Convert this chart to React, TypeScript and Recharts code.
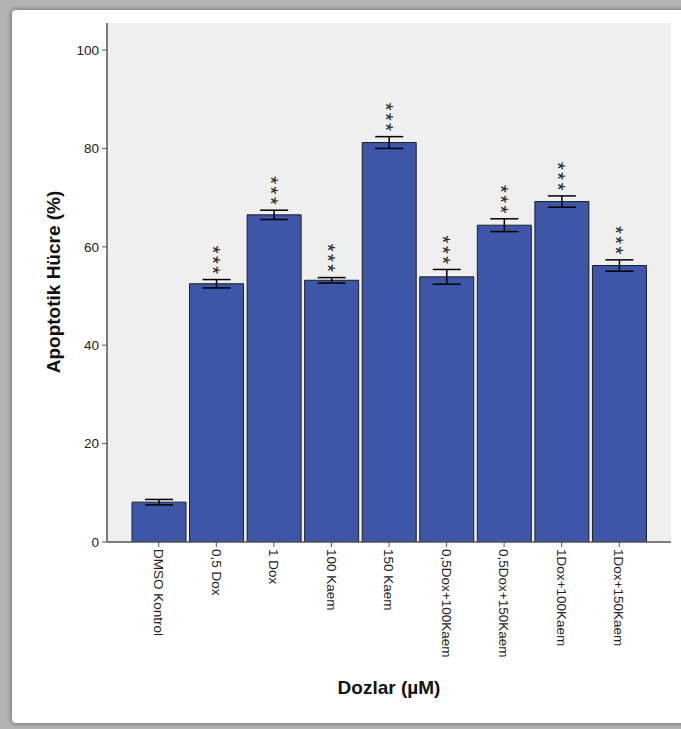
import React from "react";
import {
  BarChart, Bar, XAxis, YAxis, CartesianGrid, ErrorBar, LabelList,
} from "recharts";

const categories = [
  "DMSO Kontrol", "0,5 Dox", "1 Dox", "100 Kaem", "150 Kaem",
  "0,5Dox+100Kaem", "0,5Dox+150Kaem", "1Dox+100Kaem", "1Dox+150Kaem",
];
const means = [8.1, 52.5, 66.5, 53.2, 81.2, 53.9, 64.4, 69.2, 56.2];
const sems = [0.55, 0.85, 0.95, 0.55, 1.2, 1.5, 1.3, 1.15, 1.15];
const stars = ["", "***", "***", "***", "***", "***", "***", "***", "***"];
const yTicks = [0, 20, 40, 60, 80, 100];

const data = categories.map((name, i) => ({ name, mean: means[i], err: [sems[i], sems[i]] }));

const FONT = "'Liberation Sans', Arial, sans-serif";
const AXIS = "#555";

function XTick({ x, y, payload }: any) {
  return (
    <text transform={`translate(${x},${y}) rotate(90)`} textAnchor="start" dy="0.35em"
      fontSize={13.5} fill="#222" fontFamily={FONT}>
      {payload.value}
    </text>
  );
}

// significance stars, written vertically just above the error bar cap
function Stars(props: any) {
  const { x, y, width, height, value, index } = props;
  const s = stars[index];
  if (!s) return null;
  const perUnit = height / value;
  const capTop = y - sems[index] * perUnit;
  const cx = x + width / 2 + 1;
  return (
    <text transform={`translate(${cx},${capTop - 3}) rotate(90)`} textAnchor="end" dy="0.58em"
      fill="#222" fontSize={20} letterSpacing={2.5} fontFamily={FONT}>
      {s}
    </text>
  );
}

export default function App() {
  return (
    <div style={{ position: "absolute", left: 0, top: 0, width: 681, height: 729, overflow: "hidden", background: "#b3b3b3", fontFamily: FONT }}>
      <div style={{
        position: "absolute", left: 12, top: 10, width: 690, height: 713, background: "#fff",
        borderRadius: 4, boxShadow: "0 0 4px 1px rgba(0,0,0,0.35)",
      }} />
      <div style={{ position: "absolute", left: 0, top: 0 }}>
        <BarChart width={681} height={729} data={data} barSize={54}
          margin={{ top: 23, right: 10, bottom: 0, left: 47 }}>
          <CartesianGrid fill="#efefef" horizontal={false} vertical={false} />
          <XAxis dataKey="name" height={187} padding={{ left: 23, right: 23 }}
            tick={<XTick />} tickSize={5} tickMargin={2} interval={0}
            axisLine={{ stroke: AXIS, strokeWidth: 1.5 }} tickLine={{ stroke: AXIS }} />
          <XAxis xAxisId="top" dataKey="name" orientation="top" height={0} tick={false}
            tickLine={false} axisLine={{ stroke: AXIS, strokeWidth: 1.5 }} />
          <YAxis width={60} domain={[0, 105.5]} ticks={yTicks} allowDataOverflow
            tick={{ fontSize: 13.5, fill: "#222", fontFamily: FONT }} tickSize={5} tickMargin={3}
            axisLine={{ stroke: AXIS, strokeWidth: 1.5 }} tickLine={{ stroke: AXIS }} />
          <YAxis yAxisId="right" orientation="right" width={0} tick={false} tickLine={false}
            axisLine={{ stroke: AXIS, strokeWidth: 1.5 }} />
          <Bar dataKey="mean" fill="#3d56a8" stroke="#1e1e1e" strokeWidth={1} isAnimationActive={false}>
            <ErrorBar dataKey="err" width={14} stroke="#000" strokeWidth={1.5} direction="y" />
            <LabelList dataKey="mean" content={<Stars />} />
          </Bar>
          <text x={53} y={282} transform="rotate(-90 53 282)" textAnchor="middle" dominantBaseline="central"
            fontSize={19} fontWeight="bold" fill="#111" fontFamily={FONT}>
            Apoptotik Hücre (%)
          </text>
          <text x={389} y={694} textAnchor="middle" fontSize={19} fontWeight="bold" fill="#111" fontFamily={FONT}>
            Dozlar (µM)
          </text>
        </BarChart>
      </div>
    </div>
  );
}
